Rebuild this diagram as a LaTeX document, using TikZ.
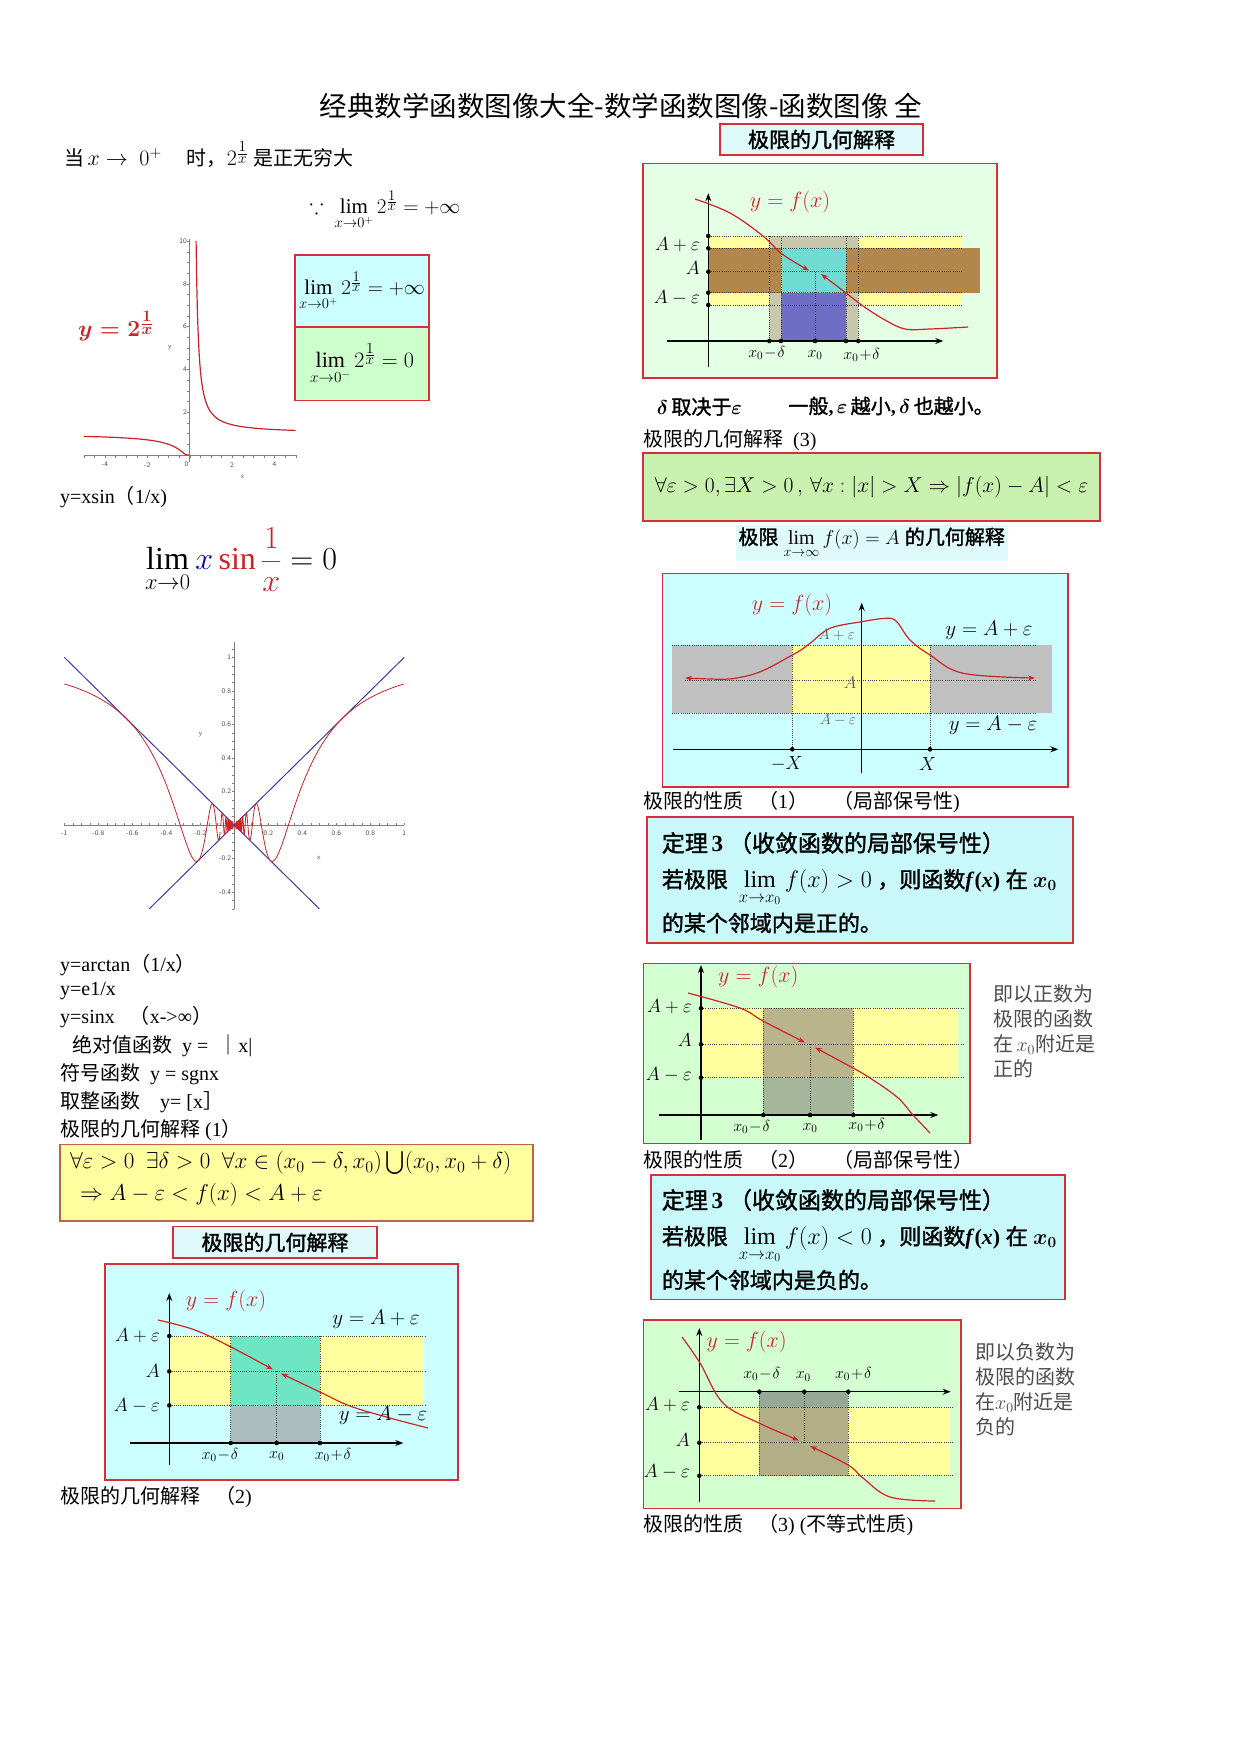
\RequirePackage{fix-cm}
\documentclass[tikz,border=0pt]{standalone}
\usepackage{amsmath,amssymb}
\usepackage{fontspec}
\setmainfont{Liberation Serif}
\newfontfamily\zhfont{Noto Sans CJK SC}
\newfontfamily\zhbfont[FakeBold=1.5]{Noto Sans CJK SC}
\newcommand\zh[1]{{\zhfont #1}}
\newcommand\zhb[1]{{\zhbfont #1}}
\newcommand\fs[1]{\fontsize{#1}{#1}\selectfont}
\newcommand\onex{\frac{\scriptstyle 1}{\scriptstyle x}}
\usetikzlibrary{arrows.meta}
\definecolor{bred}{RGB}{215,45,60}
\definecolor{ybord}{RGB}{190,100,70}
\definecolor{cred}{RGB}{205,35,40}
\definecolor{cyanbg}{RGB}{204,255,255}
\definecolor{cyanlt}{RGB}{222,250,250}
\definecolor{greenbg}{RGB}{204,255,204}
\definecolor{palegreen}{RGB}{228,255,228}
\definecolor{midgreen}{RGB}{212,255,208}
\definecolor{formgreen}{RGB}{200,240,175}
\definecolor{thcyan}{RGB}{200,248,250}
\definecolor{yel}{RGB}{255,255,160}
\definecolor{colgray}{RGB}{200,200,172}
\definecolor{brownb}{RGB}{178,135,75}
\definecolor{cyansq}{RGB}{110,220,210}
\definecolor{bluesq}{RGB}{110,110,196}
\definecolor{tealg}{RGB}{110,230,195}
\definecolor{graytwo}{RGB}{170,190,190}
\definecolor{grayinf}{RGB}{192,192,192}
\definecolor{olivefour}{RGB}{185,180,140}
\definecolor{grayfour}{RGB}{165,182,155}
\definecolor{olivefive}{RGB}{178,175,135}
\definecolor{grayfive}{RGB}{150,168,150}
\definecolor{bluel}{RGB}{60,60,160}
\tikzset{
 txt/.style={anchor=west, inner sep=0pt, font=\fs{20}},
 frame/.style={draw=bred, line width=1.6pt, inner sep=0pt},
 lbl/.style={inner sep=0pt, font=\fs{19}},
 xlbl/.style={inner sep=0pt, font=\fs{16}},
 flbl/.style={inner sep=0pt, font=\fs{22}, text=cred},
 dotl/.style={dash pattern=on 1pt off 1.2pt, line width=0.8pt, black!75},
 axarrow/.style={line width=1.1pt, -{Stealth[length=8pt,width=6pt]}},
 crv/.style={draw=cred, line width=1.2pt},
 crva/.style={crv, -{Stealth[length=7pt,width=5pt]}},
 tick/.style={inner sep=1pt, font=\sffamily\fs{7}, text=black!70},
 sidetxt/.style={anchor=north west, inner sep=0pt, align=left, font=\fontsize{20}{25}\selectfont\zhfont, text=black!70},
}
\begin{document}
\begin{tikzpicture}[x=1pt,y=-1pt]
\fill[white] (0,0) rectangle (1240,1753);
\useasboundingbox (0,0) rectangle (1240,1753);

% ---------- title ----------
\node[inner sep=0pt, font=\zhfont\fs{27.5}] (title) at (621,106) {经典数学函数图像大全-数学函数图像-函数图像\ 全};

\node[txt] (l1) at (64,155) {\zh{当}\,{\fs{22}$x\to\ 0^{+}$}\quad\ \zh{时，}{\fs{22}$2^{\onex}$}\ \zh{是正无穷大}};

% ---------- graph y=2^(1/x) ----------
\begin{scope}[shift={(189.7,455)}, x=21.2pt, y=21.4pt]
 \draw[gray, line width=0.5pt] (-5,0) -- (5,0);
 \draw[gray, line width=0.5pt] (0,-0.35) -- (0,10.1);
 \foreach \i in {-5,-4.5,...,5} \draw[gray, line width=0.3pt] (\i,0) -- (\i,-0.12);
 \foreach \j in {0,0.5,...,10} \draw[gray, line width=0.3pt] (0,\j) -- (-0.12,\j);
 \foreach \i in {-4,-2,2,4} \node[tick] at (\i,-0.45) {\i};
 \node[tick] at (-0.15,-0.45) {0};
 \foreach \j in {2,4,6,8,10} \node[tick, anchor=east] at (-0.08,\j) {\j};
 \draw[crv] plot[domain=0.301:5, samples=160] (\x,{2^(1/\x)});
 \draw[crv] plot[domain=-5:-0.03, samples=120] (\x,{2^(1/\x)});
 \node[tick] (ylab1) at (-0.94,5) {y};
 \node[tick] (xlab1) at (2.5,-1.03) {x};
\end{scope}
\node[inner sep=0pt, font=\fs{23}, text=cred] (lab2x) at (116,326) {$\boldsymbol{y=2^{\onex}}$};

\node[inner sep=0pt, font=\fs{21}] (because) at (385,210) {$\because\ \lim\limits_{x\to0^{+}}2^{\onex}=+\infty$};
\node[frame, fill=cyanbg, minimum width=134pt, minimum height=72pt, font=\fs{21}] (b1) at (362,291) {$\lim\limits_{x\to0^{+}}2^{\onex}=+\infty$};
\node[frame, fill=greenbg, minimum width=134pt, minimum height=73pt, font=\fs{22}] (b2) at (362,364) {$\lim\limits_{x\to0^{-}}2^{\onex}=0$};

% ---------- x sin(1/x) ----------
\node[txt] (xsinlab) at (60,497) {y=xsin\zh{（}1/x)};
\node[inner sep=0pt, font=\fs{32}] (xsinlim) at (241,560) {$\displaystyle\lim_{x\to0}\textcolor{blue!75!black}{x}\,\textcolor{cred}{\sin\frac{1}{x}}=0$};

\begin{scope}[shift={(234.3,825)}, x=170pt, y=167.7pt]
 \draw[gray, line width=0.5pt] (-1,0) -- (1,0);
 \draw[gray, line width=0.5pt] (0,-0.5) -- (0,1.09);
 \foreach \i in {-1,-0.95,...,1.01} \draw[gray, line width=0.3pt] (\i,0) -- (\i,0.012);
 \foreach \j in {-0.5,-0.45,...,1.06} \draw[gray, line width=0.3pt] (0,\j) -- (-0.012,\j);
 \foreach \i in {-1,-0.8,-0.6,-0.4,-0.2,0.2,0.4,0.6,0.8,1} \node[tick] at (\i,-0.05) {\i};
 \foreach \j in {-0.4,-0.2,0.2,0.4,0.6,0.8,1} \node[tick, anchor=east] at (-0.012,\j) {\j};
 \node[tick] (ylab2) at (-0.198,0.537) {y};
 \node[tick] (xlab2) at (0.498,-0.197) {x};
 \draw[bluel, line width=1pt] (-1,1) -- (0.5,-0.5);
 \draw[bluel, line width=1pt] (-0.5,-0.5) -- (1,1);
 \draw[cred, line width=0.8pt] plot[domain=0.08:1, samples=200] (\x,{\x*sin(deg(1/\x))});
 \draw[cred, line width=0.8pt] plot[domain=-1:-0.08, samples=200] (\x,{\x*sin(deg(1/\x))});
 \draw[cred, line width=0.8pt] plot[variable=\t, domain=12.5:120, samples=900] ({1/\t},{sin(deg(\t))/\t});
 \draw[cred, line width=0.8pt] plot[variable=\t, domain=12.5:120, samples=900] ({-1/\t},{sin(deg(\t))/\t});
\end{scope}

% ---------- left text list ----------
\node[txt] (t1) at (60,965) {y=arctan\zh{（}1/x\zh{）}};
\node[txt] (t2) at (60,991) {y=e1/x};
\node[txt] (t3) at (60,1017.5) {y=sinx\ \ \ \zh{（}x->∞\zh{）}};
\node[txt] (t4) at (72,1046) {\zh{绝对值函数}\ \ y =\ \ \zh{｜}x|};
\node[txt] (t5) at (60,1074) {\zh{符号函数}\ \ y = sgnx};
\node[txt] (t6) at (60,1102) {\zh{取整函数}\ \ \ \ y= [x\zh{］}};
\node[txt] (t7) at (60,1130) {\zh{极限的几何解释}\ (1\zh{）}};

\node[draw=ybord, fill=yel, line width=1.5pt, minimum width=473pt, minimum height=76.5pt, inner sep=0pt] (fbox1) at (296.5,1182.8) {};
\node[txt, font=\fs{23}] (f1a) at (70,1163) {$\forall\varepsilon>0\ \ \exists\delta>0\ \ \forall x\in(x_0-\delta,x_0)\bigcup(x_0,x_0+\delta)$};
\node[txt, font=\fs{23}] (f1b) at (80,1195) {$\Rightarrow A-\varepsilon<f(x)<A+\varepsilon$};

\node[frame, fill=cyanlt, minimum width=204pt, minimum height=31.5pt, font=\fs{21}] (tt2) at (275,1242.4) {\zhb{极限的几何解释}};

% ---------- graph (2) ----------
\node[frame, fill=cyanbg, minimum width=353pt, minimum height=216.3pt] (g2) at (281.5,1371.9) {};
\fill[yel] (169.3,1336) rectangle (423.3,1405.4);
\fill[tealg] (230.7,1336) rectangle (320,1405.4);
\fill[graytwo] (230.7,1405.4) rectangle (320,1443);
\foreach \yy in {1336,1371.4,1405.4} \draw[dotl] (169.3,\yy) -- (426.7,\yy);
\foreach \xx in {230.7,320} \draw[dotl] (\xx,1336) -- (\xx,1443);
\draw[dotl] (276.7,1371.4) -- (276.7,1443);
\draw[axarrow] (130,1443) -- (403.3,1443);
\draw[axarrow] (169.3,1465) -- (169.3,1293);
\foreach \yy in {1336,1371.4,1405.4} \fill (169.3,\yy) circle (2.3pt);
\foreach \xx in {230.7,276.7,320} \fill (\xx,1443) circle (2.3pt);
\draw[crva] plot[smooth, tension=0.6] coordinates {(158,1320) (195,1330) (231,1347) (273,1369.5)};
\draw[crva] plot[smooth, tension=0.6] coordinates {(428,1428) (390,1418) (350,1406) (320,1392) (281,1373.5)};
\node[lbl, anchor=east] (g2ap) at (160,1336) {$A+\varepsilon$};
\node[lbl, anchor=east] (g2a) at (160,1371.4) {$A$};
\node[lbl, anchor=east] (g2am) at (160,1405.4) {$A-\varepsilon$};
\node[flbl] (g2f) at (226,1300.7) {$y=f(x)$};
\node[lbl, font=\fs{21}] (g2ape) at (376,1319) {$y=A+\varepsilon$};
\node[lbl, font=\fs{21}] (g2ame) at (383,1415) {$y=A-\varepsilon$};
\node[xlbl] (g2x1) at (220,1455) {$x_0\!-\!\delta$};
\node[xlbl] (g2x2) at (276.7,1456) {$x_0$};
\node[xlbl] (g2x3) at (333,1455) {$x_0\!+\!\delta$};
\node[txt] (t8) at (60,1497) {\zh{极限的几何解释}\ \ \ \zh{（}2)};

% ---------- right column: graph (3) ----------
\node[frame, fill=cyanlt, minimum width=203pt, minimum height=31pt, font=\fs{21}] (tt1) at (821.5,139.5) {\zhb{极限的几何解释}};
\node[frame, fill=palegreen, minimum width=354pt, minimum height=214.4pt] (g3) at (820,270.5) {};
\fill[yel] (708.3,236) rectangle (961.7,305);
\fill[colgray] (769.3,236) rectangle (858.3,341);
\fill[brownb] (708.3,248.3) rectangle (980,292.7);
\fill[cyansq] (781,248.3) rectangle (846,292.7);
\fill[bluesq] (781,292.7) rectangle (846,341);
\foreach \yy in {236,248.3,271.7,292.7,305} \draw[dotl] (708.3,\yy) -- (963,\yy);
\foreach \xx in {769.3,781,846,858.3} \draw[dotl] (\xx,236) -- (\xx,341);
\draw[dotl] (815,271.7) -- (815,341);
\draw[axarrow] (666.7,341) -- (943.3,341);
\draw[axarrow] (708.3,366.7) -- (708.3,193.3);
\foreach \yy in {236,248.3,271.7,292.7,305} \fill (708.3,\yy) circle (2.3pt);
\foreach \xx in {769.3,781,815,846,858.3} \fill (\xx,341) circle (2.3pt);
\draw[crva] plot[smooth, tension=0.6] coordinates {(695,199) (730,213) (763,236) (782,254) (809,270.5)};
\draw[crva] plot[smooth, tension=0.6] coordinates {(968,327) (930,329) (905,329) (885,320) (863,306) (846,293) (821,274)};
\node[flbl] (g3f) at (790,201.7) {$y=f(x)$};
\node[lbl, anchor=east] (g3ap) at (700,245) {$A+\varepsilon$};
\node[lbl, anchor=east] (g3a) at (700,268) {$A$};
\node[lbl, anchor=east] (g3am) at (700,298) {$A-\varepsilon$};
\node[xlbl] (g3x1) at (766.7,353) {$x_0\!-\!\delta$};
\node[xlbl] (g3x2) at (815,355) {$x_0$};
\node[xlbl] (g3x3) at (861.7,355) {$x_0\!+\!\delta$};

\node[txt] (d1) at (656.7,406.7) {$\boldsymbol{\delta}$\,\zhb{取决于}$\boldsymbol{\varepsilon}$};
\node[txt] (d2) at (788.3,406.7) {\zhb{一般}\textbf{,}\,$\boldsymbol{\varepsilon}$\,\zhb{越小}\textbf{,}\,$\boldsymbol{\delta}$\,\zhb{也越小。}};
\node[txt] (t9) at (643,440) {\zh{极限的几何解释}\ \ (3)};

\node[frame, fill=formgreen, minimum width=457pt, minimum height=68pt, font=\fs{21.5}] (f3) at (871.5,486.7) {$\forall\varepsilon>0,\exists X>0\,,\,\forall x:\left|x\right|>X\Rightarrow\left|f(x)-A\right|<\varepsilon$};

\node[fill=cyanlt, inner sep=3pt, font=\fs{20}] (tinf) at (871.7,543) {\zhb{极限}\ $\lim\limits_{x\to\infty}f(x)=A$\ \zhb{的几何解释}};

% ---------- graph infinity ----------
\node[frame, fill=cyanbg, minimum width=405.4pt, minimum height=213.4pt] (ginf) at (865,680) {};
\fill[grayinf] (671.7,645) rectangle (1051.7,713.3);
\fill[yel] (792.3,645) rectangle (930,713.3);
\foreach \yy in {645,713.3} \draw[dotl] (671.7,\yy) -- (1035,\yy);
\draw[dotl] (685,680) -- (1035,680);
\foreach \xx in {792.3,930} \draw[dotl] (\xx,645) -- (\xx,749.3);
\draw[axarrow] (673.3,749.3) -- (1058.3,749.3);
\draw[axarrow] (861.7,773.3) -- (861.7,602.7);
\foreach \xx in {792.3,930} \fill (\xx,749.3) circle (2.3pt);
\draw[crv, {Stealth[length=7pt,width=5pt]}-{Stealth[length=7pt,width=5pt]}] plot[smooth, tension=0.6] coordinates {(685,678) (746.7,676) (792.3,655) (810,643.3) (830,628.3) (861.7,621.7) (886.7,618.3) (896.7,621.7) (910,640) (930,655) (963.3,673.3) (1035,678)};
\node[flbl] (ginff) at (792,605) {$y=f(x)$};
\node[lbl, font=\fs{15}, text=black!65] (ginfap) at (836.7,635) {$A+\varepsilon$};
\node[lbl, font=\fs{17}, text=black!65] (ginfa) at (850,683) {$A$};
\node[lbl, font=\fs{15}, text=black!65] (ginfam) at (838,720) {$A-\varepsilon$};
\node[lbl, font=\fs{21}] (ginfape) at (989,630) {$y=A+\varepsilon$};
\node[lbl, font=\fs{21}] (ginfame) at (993,725) {$y=A-\varepsilon$};
\node[lbl] (ginfx1) at (786.7,764) {$-X$};
\node[lbl] (ginfx2) at (927.7,764) {$X$};

\node[txt] (p1) at (643,802) {\zh{极限的性质}\ \ \ \zh{（}1\zh{）}\ \ \ \ \ \zh{（局部保号性}) };

% ---------- theorem 1 ----------
\node[frame, fill=thcyan, minimum width=426pt, minimum height=126pt] (th1) at (860,880) {};
\node[txt, font=\fs{23}] (th1a) at (661.7,843) {\zhb{定理}\,\textbf{3}\ \zhb{（收敛函数的局部保号性）}};
\node[txt, font=\fs{22}] (th1b) at (661.7,888) {\zhb{若极限}\ \ {\fs{24}$\lim\limits_{x\to x_0}f(x)>0$}\ \zhb{，则函数}\textbf{\textit{f}(\textit{x})}\ \zhb{在}\ $\boldsymbol{x_0}$};
\node[txt, font=\fs{22}] (th1c) at (661.7,923) {\zhb{的某个邻域内是正的。}};

% ---------- graph (4) ----------
\node[frame, fill=midgreen, minimum width=326.7pt, minimum height=180pt] (g4) at (806.7,1053.3) {};
\fill[yel] (701,1008.3) rectangle (958.3,1077.7);
\fill[olivefour] (763.3,1008.3) rectangle (853.3,1077.7);
\fill[grayfour] (763.3,1077.7) rectangle (853.3,1115);
\foreach \yy in {1008.3,1044.3,1077.7} \draw[dotl] (701,\yy) -- (963.3,\yy);
\foreach \xx in {763.3,853.3} \draw[dotl] (\xx,1008.3) -- (\xx,1115);
\draw[dotl] (810,1044.3) -- (810,1115);
\draw[axarrow] (659.3,1115) -- (938.3,1115);
\draw[axarrow] (701,1140) -- (701,965);
\foreach \yy in {1008.3,1044.3,1077.7} \fill (701,\yy) circle (2.3pt);
\foreach \xx in {763.3,810,853.3} \fill (\xx,1115) circle (2.3pt);
\draw[crva] plot[smooth, tension=0.6] coordinates {(688,993) (740,1008) (763,1021) (805,1042.5)};
\draw[crva] plot[smooth, tension=0.6] coordinates {(930,1133) (913,1115) (897,1097) (870,1078) (853,1068) (815,1047.5)};
\node[flbl] (g4f) at (758.3,976.7) {$y=f(x)$};
\node[lbl, anchor=east] (g4ap) at (692,1006.7) {$A+\varepsilon$};
\node[lbl, anchor=east] (g4a) at (692,1040) {$A$};
\node[lbl, anchor=east] (g4am) at (692,1075) {$A-\varepsilon$};
\node[xlbl] (g4x1) at (751.7,1127) {$x_0\!-\!\delta$};
\node[xlbl] (g4x2) at (810,1128.3) {$x_0$};
\node[xlbl] (g4x3) at (866.7,1125) {$x_0\!+\!\delta$};
\node[sidetxt] (s1) at (993,984) {即以正数为\\极限的函数\\在\,$x_0$附近是\\正的};

\node[txt] (p2) at (643,1160) {\zh{极限的性质}\ \ \ \zh{（}2\zh{）}\ \ \ \ \ \zh{（局部保号性）}};

% ---------- theorem 2 ----------
\node[frame, fill=thcyan, minimum width=414pt, minimum height=124.3pt] (th2) at (858,1237.2) {};
\node[txt, font=\fs{23}] (th2a) at (661.7,1200) {\zhb{定理}\,\textbf{3}\ \zhb{（收敛函数的局部保号性）}};
\node[txt, font=\fs{22}] (th2b) at (661.7,1245) {\zhb{若极限}\ \ {\fs{24}$\lim\limits_{x\to x_0}f(x)<0$}\ \zhb{，则函数}\textbf{\textit{f}(\textit{x})}\ \zhb{在}\ $\boldsymbol{x_0}$};
\node[txt, font=\fs{22}] (th2c) at (661.7,1280) {\zhb{的某个邻域内是负的。}};

% ---------- graph (5) ----------
\node[frame, fill=midgreen, minimum width=317.7pt, minimum height=188.3pt] (g5) at (802.2,1414.2) {};
\fill[yel] (699.3,1407.3) rectangle (950,1475.7);
\fill[olivefive] (759.3,1407.3) rectangle (848.3,1475.7);
\fill[grayfive] (759.3,1391.7) rectangle (848.3,1407.3);
\foreach \yy in {1407.3,1442.7,1475.7} \draw[dotl] (699.3,\yy) -- (954,\yy);
\foreach \xx in {759.3,848.3} \draw[dotl] (\xx,1391.7) -- (\xx,1475.7);
\draw[dotl] (804.3,1391.7) -- (804.3,1442.7);
\draw[axarrow] (679.3,1391.7) -- (950.7,1391.7);
\draw[axarrow] (699.3,1501.7) -- (699.3,1328);
\foreach \yy in {1407.3,1442.7,1475.7} \fill (699.3,\yy) circle (2.3pt);
\foreach \xx in {759.3,804.3,848.3} \fill (\xx,1391.7) circle (2.3pt);
\draw[crva] plot[smooth, tension=0.6] coordinates {(682,1337) (700,1363) (723,1403) (759,1423) (799,1440.5)};
\draw[crva] plot[smooth, tension=0.6] coordinates {(935,1501) (890,1497) (863,1478) (848,1465) (810,1446)};
\node[flbl] (g5f) at (746.7,1341.7) {$y=f(x)$};
\node[lbl, anchor=east] (g5ap) at (690,1405) {$A+\varepsilon$};
\node[lbl, anchor=east] (g5a) at (690,1440) {$A$};
\node[lbl, anchor=east] (g5am) at (690,1472) {$A-\varepsilon$};
\node[xlbl] (g5x1) at (761.7,1374) {$x_0\!-\!\delta$};
\node[xlbl] (g5x2) at (803.3,1376.7) {$x_0$};
\node[xlbl] (g5x3) at (853.3,1374) {$x_0\!+\!\delta$};
\node[sidetxt] (s2) at (975,1342) {即以负数为\\极限的函数\\在$x_0$附近是\\负的};

\node[txt] (p3) at (643,1525) {\zh{极限的性质}\ \ \ \zh{（}3) (\zh{不等式性质})};
\end{tikzpicture}
\end{document}
